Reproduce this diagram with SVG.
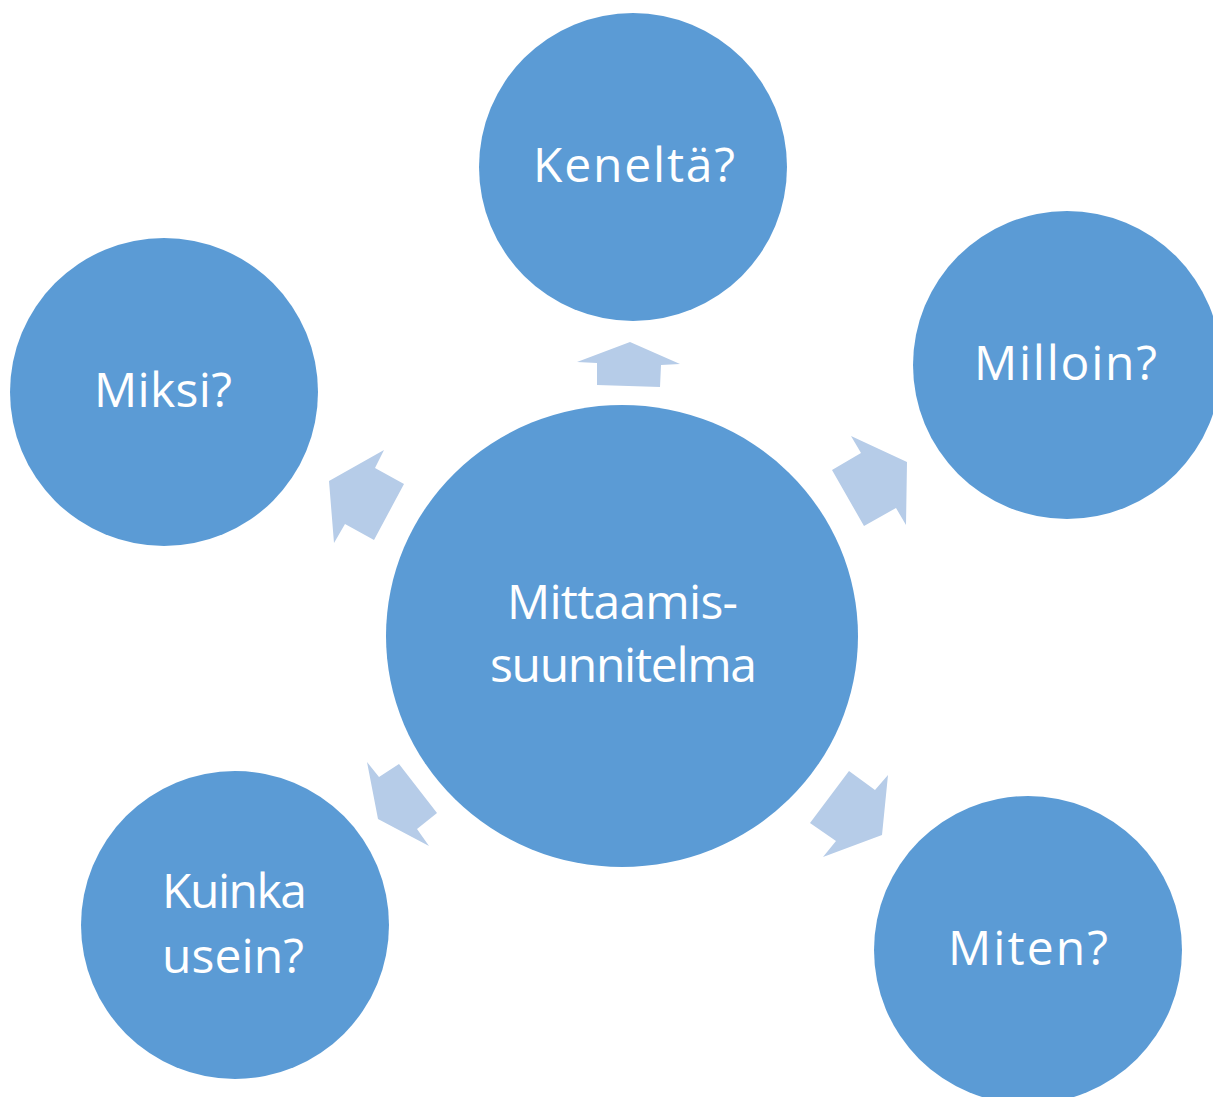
<svg xmlns="http://www.w3.org/2000/svg" width="1213" height="1097" viewBox="0 0 1213 1097">
  <style>
    .node { fill: #5B9BD5; }
    .label { fill: #FFFFFF; font-family: "Open Sans", "Noto Sans", "Liberation Sans", sans-serif; font-size: 48px; text-anchor: start; }
    .arrow { fill: #B6CCE8; }
  </style>
  <rect width="1213" height="1097" fill="#FFFFFF"/>

  <!-- connectors: block arrows pointing outwards from the hub -->
  <g id="connectors">
    <polygon class="arrow" points="577,362 630,342 680,364 661,365 660,387 597,385 597,363"/>
    <polygon class="arrow" points="851,436 907,462 906,525 896,508 864,526 832,470 861,453"/>
    <polygon class="arrow" points="849,771 875,790 888,775 882,835 823,857 836,841 810,823"/>
    <polygon class="arrow" points="367,762 379,777 399,764 437,813 417,829 429,846 378,819"/>
    <polygon class="arrow" points="384,450 375,468 404,484 374,540 345,524 334,543 329,481"/>
  </g>

  <g id="hub">
    <ellipse class="node" cx="622" cy="636" rx="236" ry="231"/>
    <text class="label" x="507" y="619" textLength="231">Mittaamis-</text>
    <text class="label" x="490" y="682" textLength="267">suunnitelma</text>
  </g>

  <g id="keneltä">
    <circle class="node" cx="633" cy="167" r="154"/>
    <text class="label" x="533" y="182" textLength="202">Keneltä?</text>
  </g>

  <g id="milloin">
    <circle class="node" cx="1067" cy="365" r="154"/>
    <text class="label" x="974" y="380" textLength="183">Milloin?</text>
  </g>

  <g id="miten">
    <circle class="node" cx="1028" cy="950" r="154"/>
    <text class="label" x="948" y="965" textLength="160">Miten?</text>
  </g>

  <g id="kuinka-usein">
    <circle class="node" cx="235" cy="925" r="154"/>
    <text class="label" x="162" y="908" textLength="145">Kuinka</text>
    <text class="label" x="162" y="973" textLength="142">usein?</text>
  </g>

  <g id="miksi">
    <circle class="node" cx="164" cy="392" r="154"/>
    <text class="label" x="94" y="407" textLength="138">Miksi?</text>
  </g>
</svg>
